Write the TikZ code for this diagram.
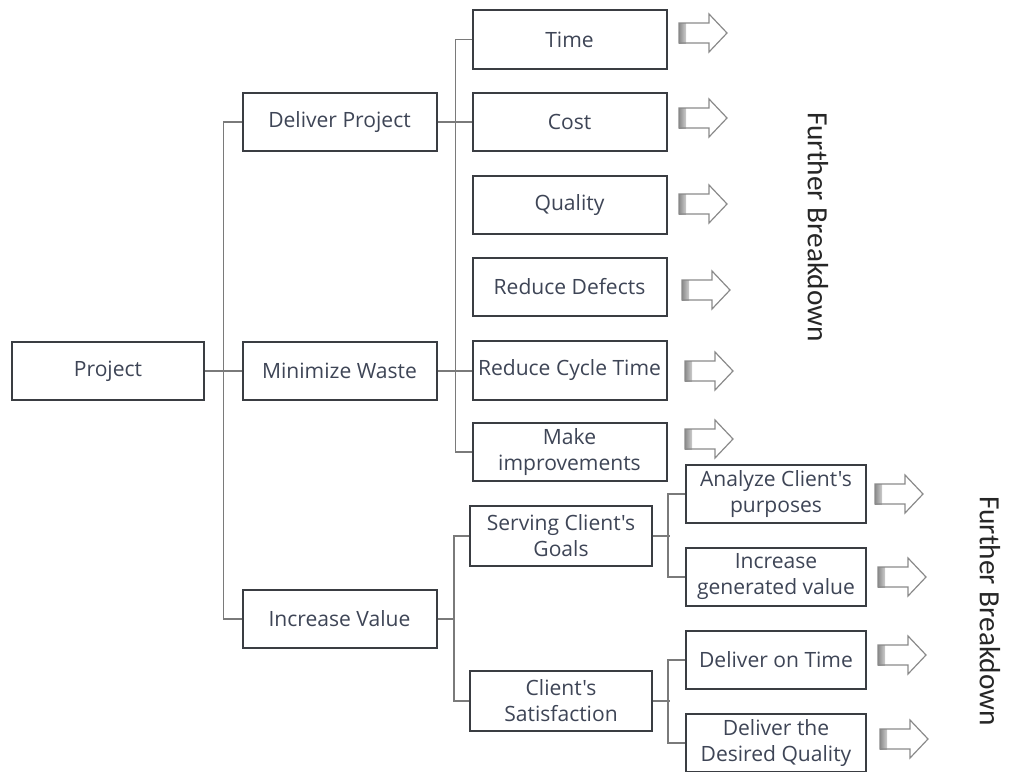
\documentclass[tikz,border=0pt]{standalone}
\usepackage{fontspec}
\setmainfont{Open Sans}[Ligatures=TeXOff]
\newfontfamily\fbfont{Carlito}
\definecolor{boxline}{HTML}{3A3D42}
\definecolor{boxtext}{HTML}{3E4556}
\definecolor{connline}{HTML}{7A7A7A}
\definecolor{arrline}{HTML}{8A8A8A}
\begin{document}
\begin{tikzpicture}[x=0.75pt,y=-0.75pt,
  box/.style={draw=boxline, line width=1.5pt, fill=white, text=boxtext,
    minimum width=145.5pt, minimum height=44pt, inner sep=1pt, align=center,
    font=\fontsize{15.8}{19.5}\selectfont},
  lbox/.style={box, minimum width=135pt},
  conn/.style={draw=connline, line width=1.1pt},
  fbtext/.style={rotate=-90, font=\fbfont\fontsize{22}{26}\selectfont, text=black!85},
  barrow/.pic={
    \fill[left color=gray!90, right color=gray!40] (0,-10) rectangle (7,10);
    \draw[arrline, line width=0.9pt, line join=miter]
      (0,-10) -- (30,-10) -- (30,-19) -- (48,0) -- (30,19) -- (30,10) -- (0,10) -- cycle;
  }]
\useasboundingbox (0,0) rectangle (1009,771);
% level 0 and 1
\node[box, minimum width=144pt] (project) at (108,371) {Project};
\node[box] (deliver) at (339.5,122) {Deliver Project};
\node[box] (minimize) at (339.5,371) {Minimize Waste};
\node[box] (increase) at (339.5,619) {Increase Value};
% level 2
\node[box] (time) at (569.5,39.5) {Time};
\node[box] (cost) at (569.5,122) {Cost};
\node[box] (quality) at (569.5,205) {Quality};
\node[box] (defects) at (569.5,287) {Reduce Defects};
\node[box] (cycle) at (569.5,370.5) {Reduce Cycle Time};
\node[box] (improve) at (569.5,452) {Make\\improvements};
\node[box, minimum width=136.5pt, minimum height=45pt] (serving) at (561,536) {Serving Client's\\Goals};
\node[box, minimum width=136.5pt, minimum height=45pt] (satisfaction) at (561,701) {Client's\\Satisfaction};
% level 3
\node[lbox] (analyze) at (776,494) {Analyze Client's\\purposes};
\node[lbox] (generated) at (776,577) {Increase\\generated value};
\node[lbox] (ontime) at (776,660) {Deliver on Time};
\node[lbox] (desired) at (776,743) {Deliver the\\Desired Quality};
% connectors
\draw[conn] (project.east) -- (minimize.west);
\draw[conn] (deliver.west) -- ++(-18,0) |- (increase.west);
\draw[conn] (time.west) -- ++(-16,0) |- (improve.west);
\draw[conn] (deliver.east) -- (cost.west);
\draw[conn] (minimize.east) -- (cycle.west |- minimize.east);
\draw[conn] (serving.west) -- ++(-15,0) |- (satisfaction.west);
\draw[conn] (increase.east) -- ++(16,0);
\draw[conn] (analyze.west) -- ++(-17,0) |- (generated.west);
\draw[conn] (serving.east) -- ++(17,0);
\draw[conn] (ontime.west) -- ++(-17,0) |- (desired.west);
\draw[conn] (satisfaction.east) -- ++(17,0);
% block arrows
\pic at (679,33) {barrow};
\pic at (679,118) {barrow};
\pic at (679,204) {barrow};
\pic at (682,290) {barrow};
\pic at (685,371) {barrow};
\pic at (685,439) {barrow};
\pic at (875,494) {barrow};
\pic at (878,577) {barrow};
\pic at (878,655) {barrow};
\pic at (880,739) {barrow};
% labels
\node[fbtext] (fb1) at (818,227) {Further Breakdown};
\node[fbtext] (fb2) at (990,611) {Further Breakdown};
\end{tikzpicture}
\end{document}
